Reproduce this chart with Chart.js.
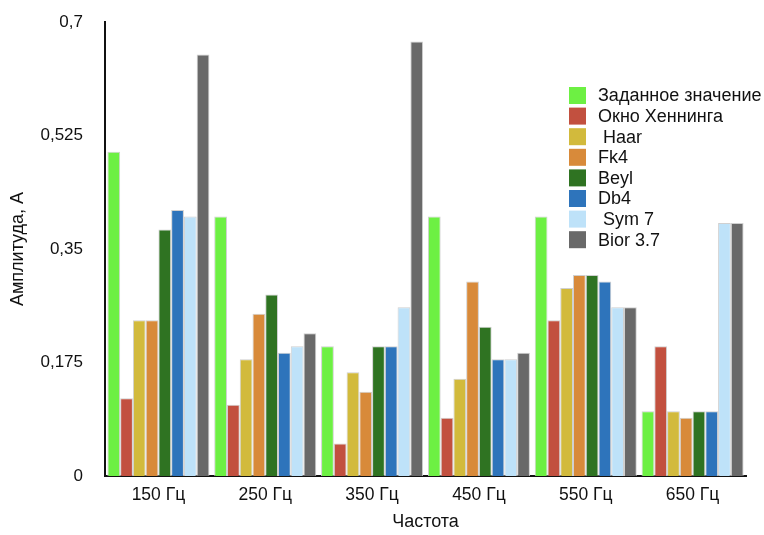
<!DOCTYPE html>
<html>
<head>
<meta charset="utf-8">
<script src="https://cdn.jsdelivr.net/npm/chart.js@4.4.1/dist/chart.umd.min.js"></script>
<style>
  html, body { margin: 0; padding: 0; background: #fff; }
  #wrap { width: 764px; height: 535px; }
</style>
</head>
<body>
<div id="wrap"><canvas id="c" width="764" height="535"></canvas></div>
<script>
const categories = ['150 Гц', '250 Гц', '350 Гц', '450 Гц', '550 Гц', '650 Гц'];
const seriesNames = ['Заданное значение', 'Окно Хеннинга', ' Haar', 'Fk4', 'Beyl', 'Db4', ' Sym 7', 'Bior 3.7'];
const target   = [0.50, 0.40, 0.20, 0.40, 0.40, 0.10];
const hanning  = [0.12, 0.11, 0.05, 0.09, 0.24, 0.20];
const haar     = [0.24, 0.18, 0.16, 0.15, 0.29, 0.10];
const fk4      = [0.24, 0.25, 0.13, 0.30, 0.31, 0.09];
const beyl     = [0.38, 0.28, 0.20, 0.23, 0.31, 0.10];
const db4      = [0.41, 0.19, 0.20, 0.18, 0.30, 0.10];
const sym7     = [0.40, 0.20, 0.26, 0.18, 0.26, 0.39];
const bior37   = [0.65, 0.22, 0.67, 0.19, 0.26, 0.39];
const yTicks   = [0, 0.175, 0.35, 0.525, 0.7];
const colors   = ['#6DF043', '#C2503F', '#D2BA3C', '#D88A3A', '#2F7322', '#2E74BB', '#BEE2F9', '#696969'];

const seriesValues = [target, hanning, haar, fk4, beyl, db4, sym7, bior37];
const FONT = '"Liberation Sans", Arial, Helvetica, sans-serif';

const legendPlugin = {
  id: 'customLegend',
  afterDraw(chart) {
    const ctx = chart.ctx;
    ctx.save();
    ctx.font = '18px ' + FONT;
    ctx.textBaseline = 'middle';
    ctx.textAlign = 'left';
    chart.data.datasets.forEach((ds, i) => {
      const cy = 95.5 + i * 20.6;
      ctx.fillStyle = ds.backgroundColor;
      ctx.fillRect(569, cy - 8.5, 17, 17);
      ctx.fillStyle = '#111';
      ctx.fillText(ds.label, 598, cy + 1);
    });
    ctx.restore();
  }
};

new Chart(document.getElementById('c'), {
  type: 'bar',
  data: {
    labels: categories,
    datasets: seriesValues.map((vals, i) => ({
      label: seriesNames[i],
      data: vals,
      backgroundColor: colors[i],
      borderColor: '#d0d0d0',
      borderWidth: 1,
      categoryPercentage: 0.955,
      barPercentage: 1.0
    }))
  },
  options: {
    responsive: false,
    animation: false,
    devicePixelRatio: 1,
    layout: { padding: { top: 22, right: 18, left: 0, bottom: 0 } },
    plugins: {
      legend: { display: false },
      tooltip: { enabled: false }
    },
    scales: {
      x: {
        grid: { display: false, drawTicks: false },
        border: { display: true, color: '#111', width: 2 },
        ticks: { color: '#111', font: { family: FONT, size: 17.5 }, padding: 9, maxRotation: 0 },
        title: { display: true, text: 'Частота', color: '#111', font: { family: FONT, size: 18 }, padding: { top: 0, bottom: 2 } },
        afterFit(scale) { scale.height = 59; scale.paddingLeft = 0; scale.paddingRight = 0; }
      },
      y: {
        min: 0,
        max: 0.7,
        grid: { display: false, drawTicks: false },
        border: { display: true, color: '#111', width: 2 },
        afterBuildTicks(scale) { scale.ticks = yTicks.map(v => ({ value: v })); },
        ticks: {
          color: '#111',
          font: { family: FONT, size: 17 },
          padding: 22,
          callback: (v) => String(v).replace('.', ',')
        },
        title: { display: true, text: 'Амплитуда, А', color: '#111', font: { family: FONT, size: 18 }, padding: { top: 7, bottom: 0 } },
        afterFit(scale) { scale.width = 105; scale.paddingTop = 0; scale.paddingBottom = 0; }
      }
    }
  },
  plugins: [legendPlugin]
});
</script>
</body>
</html>
